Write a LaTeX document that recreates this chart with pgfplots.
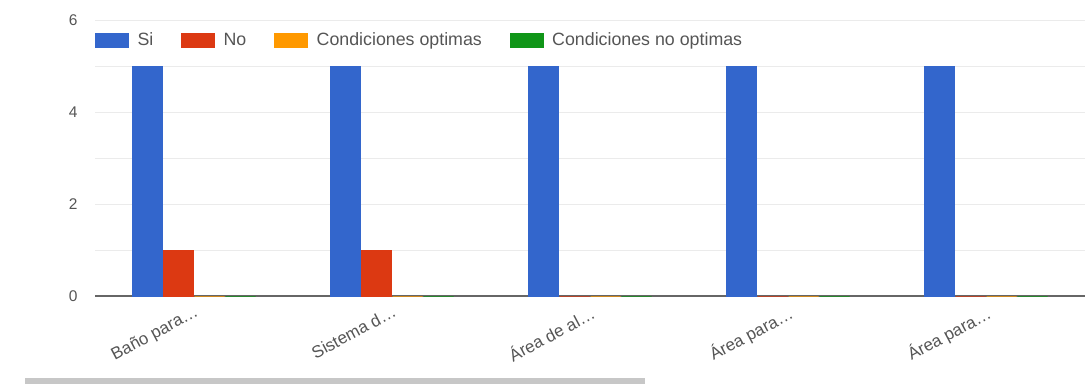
\documentclass[border=0pt]{standalone}
\usepackage{pgfplots}
\pgfplotsset{compat=1.18}
\usepackage{fontspec}
\setmainfont{Liberation Sans}

\definecolor{cSi}{HTML}{3366CC}
\definecolor{cNo}{HTML}{DC3912}
\definecolor{cOpt}{HTML}{FF9900}
\definecolor{cNoOpt}{HTML}{109618}
\definecolor{txt}{HTML}{555555}
\definecolor{gridc}{HTML}{EBEBEB}

\begin{document}
\begin{tikzpicture}
\useasboundingbox (0,0) rectangle (1085pt,384pt);
\begin{axis}[
  at={(95pt,88pt)}, anchor=south west,
  scale only axis, width=990pt, height=276pt,
  ybar=1pt, bar width=30pt,
  xmin=-0.5, xmax=4.5, ymin=0, ymax=6,
  xtick=data,
  xticklabels={Baño para…, Sistema d…, Área de al…, Área para…, Área para…},
  xticklabel style={rotate=28, anchor=north east, font=\fontsize{17}{20}\selectfont, text=txt, xshift=-1pt, yshift=-4pt},
  ytick={0,2,4,6}, minor ytick={1,3,5},
  yticklabel style={font=\fontsize{15.5}{18}\selectfont, text=txt, xshift=-14pt},
  /pgf/number format/assume math mode=true,
  major tick length=0pt, minor tick length=0pt,
  ymajorgrids, yminorgrids,
  major grid style={draw=gridc, line width=1pt},
  minor grid style={draw=gridc, line width=1pt},
  axis lines*=left,
  y axis line style={draw=none},
  x axis line style={draw=black!60, line width=1.2pt},
  legend columns=-1,
  legend image code/.code={\fill (0pt,-7pt) rectangle (33pt,7pt);},
  legend style={at={(axis description cs:0,0.9275)}, anchor=west,
    draw=none, fill=none, inner sep=0pt,
    font=\fontsize{17.8}{21}\selectfont, text=txt,
    nodes={inner xsep=9pt},
    /tikz/every even column/.append style={column sep=19pt}},
]
\addplot[fill=cSi, draw=cSi, line width=0.3pt] coordinates {(0,5) (1,5) (2,5) (3,5) (4,5)};
\addplot[fill=cNo, draw=cNo, line width=0.3pt] coordinates {(0,1) (1,1) (2,0) (3,0) (4,0)};
\addplot[fill=cOpt, draw=cOpt, line width=0.3pt] coordinates {(0,0) (1,0) (2,0) (3,0) (4,0)};
\addplot[fill=cNoOpt, draw=cNoOpt, line width=0.3pt] coordinates {(0,0) (1,0) (2,0) (3,0) (4,0)};
\legend{Si, No, Condiciones optimas, Condiciones no optimas}
\end{axis}
% horizontal scrollbar under the chart
\fill[black!22] (25pt,0pt) rectangle (645pt,6pt);
\end{tikzpicture}
\end{document}
